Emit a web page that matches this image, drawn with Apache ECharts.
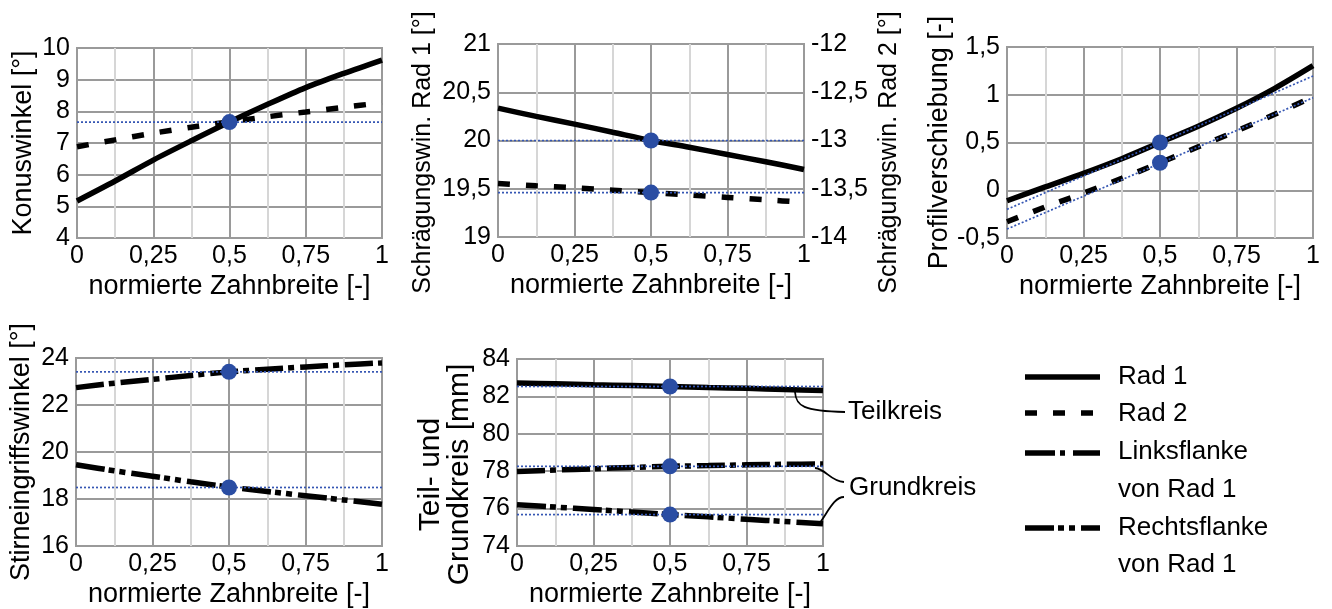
<!DOCTYPE html>
<html>
<head>
<meta charset="utf-8">
<script src="https://cdn.jsdelivr.net/npm/echarts@6/dist/echarts.min.js"></script>
<style>
html,body{margin:0;padding:0;background:#fff;}
#chart{width:1332px;height:609px;}
</style>
</head>
<body>
<div id="chart"></div>
<script>
// ---------- data ----------
const xs = [0, 0.125, 0.25, 0.375, 0.5, 0.625, 0.75, 0.875, 1];

const konusRad1 = [5.17, 5.8, 6.46, 7.07, 7.66, 8.22, 8.75, 9.2, 9.62];
const konusRad2 = [6.88, 7.1, 7.31, 7.5, 7.67, 7.83, 7.98, 8.13, 8.27];
const konusRef = [7.66];

const schrRad1 = [20.335, 20.25, 20.17, 20.085, 20.0, 19.93, 19.855, 19.78, 19.70];
const schrRad2 = [-13.445, -13.47, -13.49, -13.515, -13.54, -13.565, -13.59, -13.615, -13.64];
const schrRef1 = [20.0];
const schrRef2 = [-13.54];

const profRad1 = [-0.11, 0.035, 0.177, 0.33, 0.5, 0.67, 0.858, 1.067, 1.304];
const profRad2 = [-0.33, -0.175, -0.03, 0.125, 0.288, 0.455, 0.62, 0.795, 0.98];
const profTan1 = [-0.2, 1.196];
const profTan2 = [-0.406, 0.969];
const profRef = [0.5, 0.288];

const stirnLinks = [22.74, 22.93, 23.09, 23.26, 23.41, 23.52, 23.62, 23.71, 23.79];
const stirnRechts = [19.46, 19.2, 18.97, 18.73, 18.51, 18.32, 18.14, 17.96, 17.78];
const stirnRef = [23.41, 18.49];

const teilkreis = [82.72, 82.67, 82.62, 82.58, 82.53, 82.48, 82.43, 82.37, 82.32];
const grundLinks = [77.99, 78.06, 78.13, 78.2, 78.26, 78.3, 78.34, 78.37, 78.38];
const grundRechts = [76.21, 76.08, 75.95, 75.82, 75.68, 75.56, 75.43, 75.31, 75.19];
const kreisRef = [82.53, 78.26, 75.68];

const legendNames = ['Rad 1', 'Rad 2', 'Linksflanke', 'von Rad 1', 'Rechtsflanke', 'von Rad 1'];

// ---------- styles ----------
const FONT = 'Liberation Sans, Arial, sans-serif';
const BLUE = '#2a4da3';
const DOTBLUE = '#3556b3';
const DASH = [12, 16];
const DASHDOT = [28, 5, 6, 6];
const DASHDOTDOT = [29, 4, 6, 5, 6, 6];

const comma = v => String(+v.toFixed(3)).replace('.', ',');

function xAxis(gi) {
  return {
    type: 'value', gridIndex: gi, min: 0, max: 1, interval: 0.25,
    name: 'normierte Zahnbreite [-]', nameLocation: 'middle', nameGap: 35,
    nameTextStyle: {fontSize: 27, color: '#000', fontFamily: FONT},
    axisLine: {show: false}, axisTick: {show: false},
    axisLabel: {fontSize: 25, color: '#000', fontFamily: FONT, margin: 6, formatter: comma},
    splitLine: {show: true, lineStyle: {color: '#9a9a9a', width: 2}},
    minorTick: {show: false, splitNumber: 2},
    minorSplitLine: {show: true, lineStyle: {color: '#d6d6d6', width: 2}}
  };
}
function yAxis(gi, min, max, interval, name, gap, extra) {
  return Object.assign({
    type: 'value', gridIndex: gi, min: min, max: max, interval: interval,
    name: name, nameLocation: 'middle', nameGap: gap, nameRotate: 90,
    nameTextStyle: {fontSize: 27, color: '#000', fontFamily: FONT},
    axisLine: {show: false}, axisTick: {show: false},
    axisLabel: {fontSize: 25, color: '#000', fontFamily: FONT, margin: 7, formatter: comma},
    splitLine: {show: true, lineStyle: {color: '#9a9a9a', width: 2}}
  }, extra || {});
}
function pairs(vals) { return xs.map((x, i) => [x, vals[i]]); }
function blackLine(xi, yi, vals, dash) {
  return {
    type: 'line', xAxisIndex: xi, yAxisIndex: yi, data: pairs(vals), smooth: 0.3,
    showSymbol: false, symbol: 'none', silent: true, z: 2,
    lineStyle: {color: '#000', width: 5.5, type: dash || 'solid', cap: 'butt'}
  };
}
function refLine(xi, yi, y0, y1) {
  return {
    type: 'line', xAxisIndex: xi, yAxisIndex: yi, data: [[0, y0], [1, y1]],
    showSymbol: false, symbol: 'none', silent: true, z: 3,
    lineStyle: {color: DOTBLUE, width: 1.7, type: [2, 2], opacity: 1}
  };
}
function dots(xi, yi, vals) {
  return {
    type: 'scatter', xAxisIndex: xi, yAxisIndex: yi, data: vals.map(v => [0.5, v]),
    symbol: 'circle', symbolSize: 16, silent: true, z: 4,
    itemStyle: {color: BLUE, opacity: 1}
  };
}

const grids = [
  {left: 77, top: 48, width: 305, height: 190},
  {left: 498, top: 44, width: 306, height: 193},
  {left: 1007, top: 47, width: 306, height: 191},
  {left: 76, top: 358, width: 306, height: 191},
  {left: 517, top: 359, width: 306, height: 190}
].map(g => Object.assign(g, {show: true, borderColor: '#9a9a9a', borderWidth: 2, backgroundColor: 'transparent'}));

const xAxes = [0, 1, 2, 3, 4].map(xAxis);
const yAxes = [
  yAxis(0, 4, 10, 1, 'Konuswinkel [°]', 40),
  yAxis(1, 19, 21, 0.5, 'Schrägungswin. Rad 1 [°]', 62, {nameTextStyle: {fontSize: 25, color: '#000', fontFamily: FONT, padding: [0, 24, 0, 0]}}),
  yAxis(1, -14, -12, 0.5, 'Schrägungswin. Rad 2 [°]', 73, {position: 'right', splitLine: {show: false},
    nameTextStyle: {fontSize: 25, color: '#000', fontFamily: FONT, padding: [0, 24, 0, 0]}}),
  yAxis(2, -0.5, 1.5, 0.5, 'Profilverschiebung [-]', 54),
  yAxis(3, 16, 24, 2, 'Stirneingriffswinkel [°]', 41),
  yAxis(4, 74, 84, 2, 'Teil- und\nGrundkreis [mm]', 43, {nameTextStyle: {fontSize: 30, color: '#000', fontFamily: FONT, lineHeight: 29, padding: [0, 44, 0, 0]}})
];

const series = [
  // panel 1
  blackLine(0, 0, konusRad1),
  blackLine(0, 0, konusRad2, DASH),
  refLine(0, 0, konusRef[0], konusRef[0]),
  dots(0, 0, konusRef),
  // panel 2
  blackLine(1, 1, schrRad1),
  blackLine(1, 2, schrRad2, DASH),
  refLine(1, 1, schrRef1[0], schrRef1[0]),
  refLine(1, 2, schrRef2[0], schrRef2[0]),
  dots(1, 1, schrRef1),
  dots(1, 2, schrRef2),
  // panel 3
  blackLine(2, 3, profRad1),
  blackLine(2, 3, profRad2, DASH),
  refLine(2, 3, profTan1[0], profTan1[1]),
  refLine(2, 3, profTan2[0], profTan2[1]),
  dots(2, 3, profRef),
  // panel 4
  blackLine(3, 4, stirnLinks, DASHDOT),
  blackLine(3, 4, stirnRechts, DASHDOTDOT),
  refLine(3, 4, stirnRef[0], stirnRef[0]),
  refLine(3, 4, stirnRef[1], stirnRef[1]),
  dots(3, 4, stirnRef),
  // panel 5
  blackLine(4, 5, teilkreis),
  blackLine(4, 5, grundLinks, DASHDOT),
  blackLine(4, 5, grundRechts, DASHDOTDOT),
  refLine(4, 5, kreisRef[0], kreisRef[0]),
  refLine(4, 5, kreisRef[1], kreisRef[1]),
  refLine(4, 5, kreisRef[2], kreisRef[2]),
  dots(4, 5, kreisRef)
];

// ---------- legend + annotations (graphic) ----------
const txt = (t, x, y) => ({type: 'text', silent: true, z: 10,
  style: {text: t, x: x, y: y, font: '26px ' + FONT, fill: '#000', verticalAlign: 'middle', textVerticalAlign: 'middle'}});
const lgLine = (y, dash) => ({type: 'line', silent: true, z: 10,
  shape: {x1: 1025, y1: y, x2: 1100, y2: y},
  style: {stroke: '#000', lineWidth: 5.5, lineDash: dash || null, lineCap: 'butt'}});
const curve = (x1, y1, c1x, c1y, c2x, c2y, x2, y2) => ({type: 'bezierCurve', silent: true, z: 10,
  shape: {x1: x1, y1: y1, cpx1: c1x, cpy1: c1y, cpx2: c2x, cpy2: c2y, x2: x2, y2: y2},
  style: {stroke: '#000', lineWidth: 1.8, fill: null}});

const graphic = [
  lgLine(377), txt(legendNames[0], 1118, 377),
  lgLine(413, DASH), txt(legendNames[1], 1118, 414),
  lgLine(453, [30, 5, 5, 8]), txt(legendNames[2], 1118, 452),
  txt(legendNames[3], 1118, 490),
  lgLine(528, [29, 4, 6, 5, 6, 6]), txt(legendNames[4], 1118, 528),
  txt(legendNames[5], 1118, 565),
  txt('Teilkreis', 848, 412),
  txt('Grundkreis', 849, 488),
  curve(795, 392, 796, 406, 803, 411, 845, 412),
  curve(815, 468, 826, 469, 830, 481, 844, 482),
  curve(819, 524, 828, 512, 834, 497, 844, 497)
];

const chart = echarts.init(document.getElementById('chart'), null, {renderer: 'canvas'});
chart.setOption({
  animation: false,
  backgroundColor: '#fff',
  textStyle: {fontFamily: FONT},
  grid: grids,
  xAxis: xAxes,
  yAxis: yAxes,
  series: series,
  graphic: graphic
});
</script>
</body>
</html>
